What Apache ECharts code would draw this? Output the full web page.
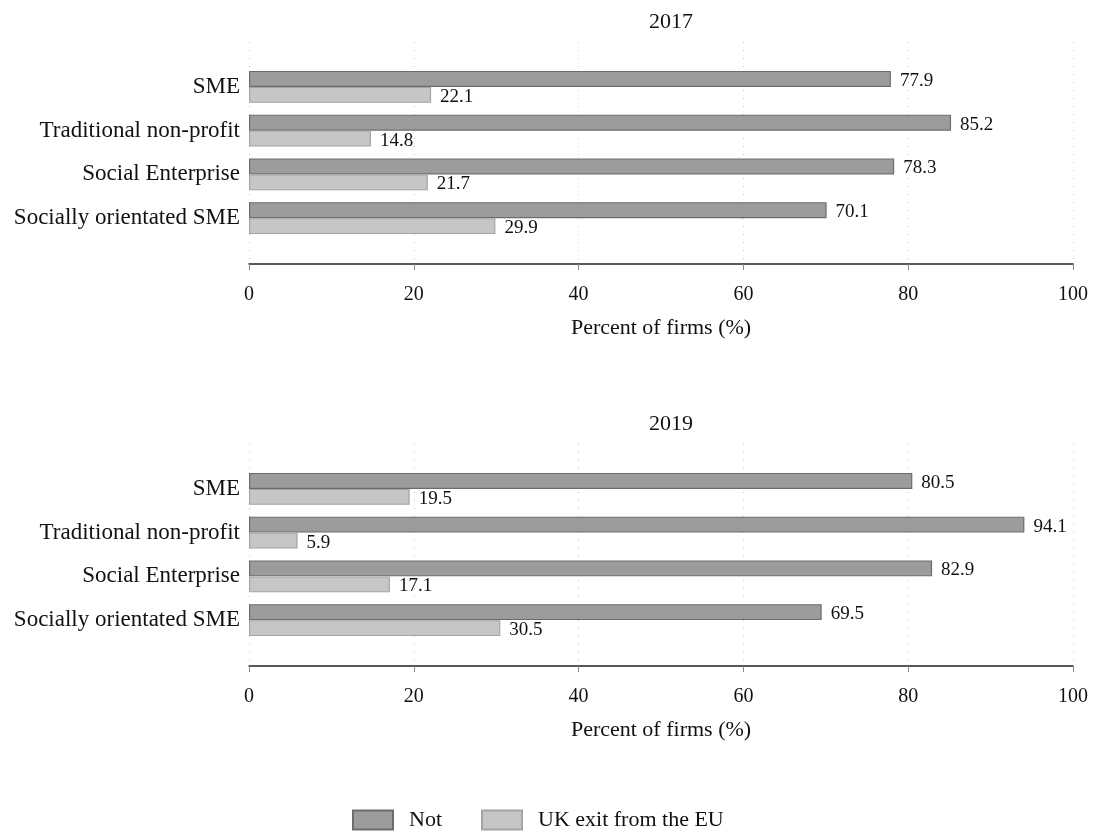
<!DOCTYPE html>
<html>
<head>
<meta charset="utf-8">
<script src="https://cdn.jsdelivr.net/npm/echarts@6/dist/echarts.min.js"></script>
<style>
html,body{margin:0;padding:0;background:#fff;}
#chart{width:1097px;height:833px;}
</style>
</head>
<body>
<div id="chart"></div>
<script>
const categories = ['SME', 'Traditional non-profit', 'Social Enterprise', 'Socially orientated SME'];
const not2017 = [77.9, 85.2, 78.3, 70.1];
const exit2017 = [22.1, 14.8, 21.7, 29.9];
const not2019 = [80.5, 94.1, 82.9, 69.5];
const exit2019 = [19.5, 5.9, 17.1, 30.5];
const panelTitles = ['2017', '2019'];
const seriesNames = ['Not', 'UK exit from the EU'];
const axisName = 'Percent of firms (%)';

const FONT = 'Liberation Serif';
const darkStyle = {color: '#9c9c9c', borderColor: '#6c6c6c', borderWidth: 1.2};
const lightStyle = {color: '#c6c6c6', borderColor: '#a4a4a4', borderWidth: 1.2};

const chart = echarts.init(document.getElementById('chart'));

const panels = [
  {title: panelTitles[0], frameTop: 42, notV: not2017, exitV: exit2017},
  {title: panelTitles[1], frameTop: 444, notV: not2019, exitV: exit2019}
];

const grid = [], xAxis = [], yAxis = [], series = [], title = [];
panels.forEach((p, i) => {
  const fi = grid.length;
  grid.push({left: 249, right: 24, top: p.frameTop, height: 222});
  const bi = grid.length;
  grid.push({left: 249, right: 24, top: p.frameTop + 23, height: 175});
  title.push({text: p.title, left: 666, top: p.frameTop - 36, textAlign: 'center',
    textStyle: {fontFamily: FONT, fontSize: 22, fontWeight: 'normal', color: '#111'}});
  xAxis.push({gridIndex: fi, type: 'value', min: 0, max: 100, interval: 20,
    axisLine: {show: true, lineStyle: {color: '#222', width: 1.5}},
    axisTick: {show: true, length: 6, lineStyle: {color: '#888'}},
    axisLabel: {fontFamily: FONT, fontSize: 20, color: '#111', margin: 21},
    splitLine: {show: true, lineStyle: {color: '#c4c4c4', type: [1, 7], width: 1}},
    name: axisName, nameLocation: 'middle', nameGap: 53,
    nameTextStyle: {fontFamily: FONT, fontSize: 22, color: '#111'}});
  yAxis.push({gridIndex: fi, type: 'value', show: false});
  xAxis.push({gridIndex: bi, type: 'value', min: 0, max: 100, show: false, splitLine: {show: false}});
  yAxis.push({gridIndex: bi, type: 'category', data: categories, inverse: true,
    axisLine: {show: false}, axisTick: {show: false},
    axisLabel: {fontFamily: FONT, fontSize: 23, color: '#111', margin: 9}});
  const xi = xAxis.length - 1, yi = yAxis.length - 1;
  const lbl = {show: true, position: 'right', distance: 9, offset: [0, 2],
    fontFamily: FONT, fontSize: 19, color: '#111', formatter: (d) => d.value.toFixed(1)};
  series.push({name: seriesNames[0], type: 'bar', xAxisIndex: xi, yAxisIndex: yi,
    data: p.notV, itemStyle: darkStyle, barGap: '0%', barCategoryGap: '27%', label: lbl});
  series.push({name: seriesNames[1], type: 'bar', xAxisIndex: xi, yAxisIndex: yi,
    data: p.exitV, itemStyle: lightStyle, barGap: '0%', barCategoryGap: '27%', label: lbl});
});

chart.setOption({
  animation: false,
  backgroundColor: '#fff',
  title: title,
  grid: grid,
  xAxis: xAxis,
  yAxis: yAxis,
  series: series,
  legend: {data: seriesNames, left: 352, top: 809, padding: 0, itemWidth: 40, itemHeight: 19, itemGap: 39,
    icon: 'rect',
    textStyle: {fontFamily: FONT, fontSize: 22, color: '#111', padding: [0, 0, 0, 11]}}
});
</script>
</body>
</html>
